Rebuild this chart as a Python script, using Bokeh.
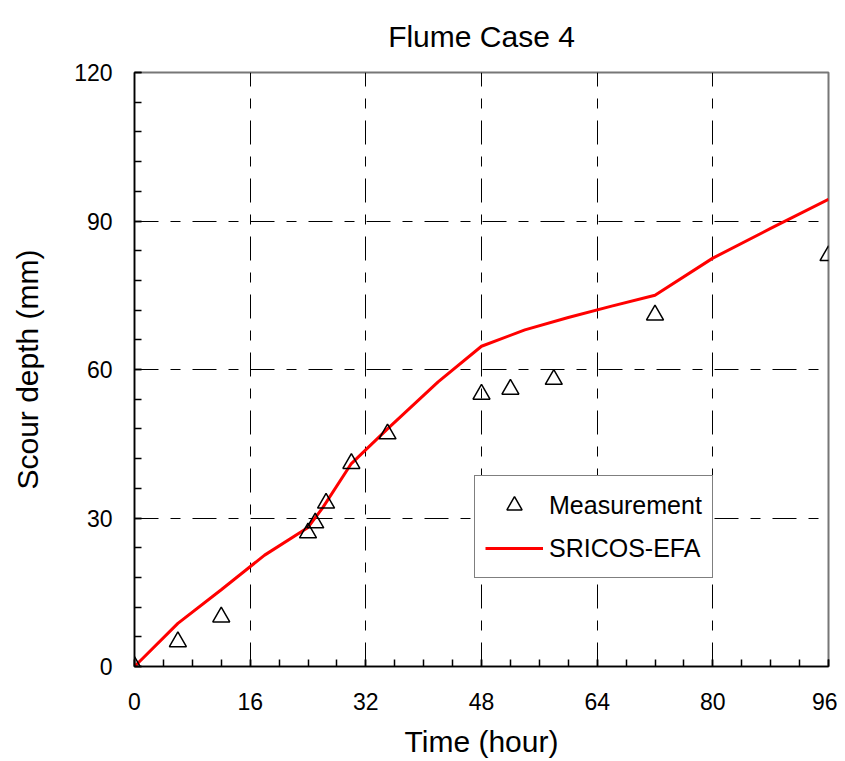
from bokeh.plotting import figure
from bokeh.models import FixedTicker, Range1d, Legend, LegendItem
from bokeh.embed import file_html
from bokeh.resources import INLINE

# Measurement data
meas_hours = [0, 6, 12, 24, 25, 26.5, 30, 35, 48, 52, 58, 72, 96]
meas_depth = [0, 5, 10, 27, 29, 33, 41, 47, 55, 56, 58, 71, 83]

# SRICOS-EFA prediction
pred_hours = [0, 6, 12, 18, 24, 26, 30, 35, 42, 48, 54, 60, 66, 72, 80, 88, 96]
pred_depth = [0, 8.7, 15.5, 22.5, 28.1, 32, 41, 48, 57.5, 64.7, 68, 70.5, 72.8, 75, 82.5, 88.5, 94.4]

x_ticks = [0, 16, 32, 48, 64, 80, 96]
x_minor = [i * 4 for i in range(25)]
y_ticks = [0, 30, 60, 90, 120]
y_minor = [i * 6 for i in range(21)]

FONT = "Liberation Sans"

p = figure(width=837, height=761, output_backend="svg", toolbar_location=None,
           x_range=Range1d(0, 96), y_range=Range1d(0, 120),
           min_border_left=134, min_border_right=9, min_border_top=72, min_border_bottom=95,
           title="Flume Case 4")

p.title.text_font = FONT
p.title.text_font_size = "30px"
p.title.text_font_style = "normal"
p.title.text_color = "black"
p.title.align = "center"
p.title.vertical_align = "top"
p.title.standoff = 36

p.outline_line_color = "#777777"
p.outline_line_width = 2
p.background_fill_color = "white"
p.border_fill_color = "white"

for ax, tk, mn in ((p.xaxis[0], x_ticks, x_minor), (p.yaxis[0], y_ticks, y_minor)):
    ax.ticker = FixedTicker(ticks=tk, minor_ticks=mn)
    ax.major_tick_in = 7
    ax.major_tick_out = 0
    ax.minor_tick_in = 7
    ax.minor_tick_out = 0
    ax.axis_line_color = "black"
    ax.axis_line_width = 1.5
    ax.major_tick_line_color = "black"
    ax.minor_tick_line_color = "black"
    ax.major_tick_line_width = 1.5
    ax.minor_tick_line_width = 1.5
    ax.major_label_text_font = FONT
    ax.major_label_text_font_size = "23px"
    ax.major_label_text_color = "black"
    ax.axis_label_text_font = FONT
    ax.axis_label_text_font_size = "30px"
    ax.axis_label_text_font_style = "normal"
    ax.axis_label_text_color = "black"

p.xaxis.axis_label = "Time (hour)"
p.yaxis.axis_label = "Scour depth (mm)"
p.xaxis.major_label_standoff = 26
p.xaxis.axis_label_standoff = 12
p.yaxis.major_label_standoff = 22
p.yaxis.axis_label_standoff = 27

for g in (p.xgrid[0], p.ygrid[0]):
    g.grid_line_color = "black"
    g.grid_line_width = 1
    g.grid_line_dash = "24 12 10 12"

r_line = p.line(pred_hours, pred_depth, line_color="#ff0000", line_width=3)
r_pts = p.scatter(meas_hours, meas_depth, marker="triangle", size=17,
                  fill_color=None, line_color="black", line_width=1.5)

legend = Legend(items=[LegendItem(label="Measurement", renderers=[r_pts]),
                       LegendItem(label="SRICOS-EFA", renderers=[r_line])],
                location=(340, 88))
legend.label_text_font = FONT
legend.label_text_font_size = "25px"
legend.label_text_color = "black"
legend.glyph_width = 58
legend.glyph_height = 38
legend.label_standoff = 6
legend.padding = 10
legend.spacing = 5
legend.margin = 0
legend.border_line_color = "black"
legend.border_line_width = 1.5
legend.background_fill_color = "white"
legend.background_fill_alpha = 1
p.add_layout(legend, "center")

open("out.html", "w").write(file_html(p, INLINE))
